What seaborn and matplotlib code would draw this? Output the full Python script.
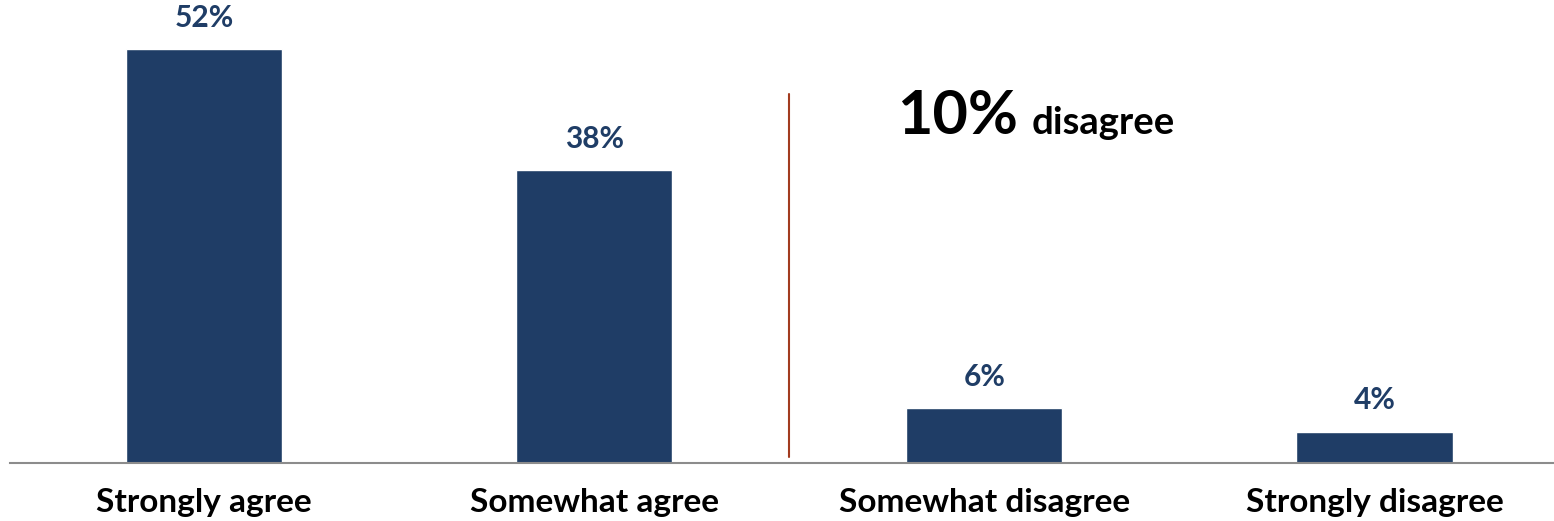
import seaborn as sns
import matplotlib.pyplot as plt
import pandas as pd

categories = ["Strongly agree", "Somewhat agree", "Somewhat disagree", "Strongly disagree"]
heights = [52, 36.8, 6.9, 3.9]
labels = ["52%", "38%", "6%", "4%"]

navy = "#1F3D66"

sns.set_theme(style="white")
plt.rcParams['font.family'] = ['Lato', 'DejaVu Sans']

df = pd.DataFrame({"category": categories, "value": heights})

fig = plt.figure(figsize=(15.54, 5.21), dpi=100)
ax = fig.add_axes([10 / 1554, 58 / 521, 1 - 10 / 1554, 463 / 521])

sns.barplot(data=df, x="category", y="value", color=navy, width=0.4,
            saturation=1, ax=ax)

# value labels above bars
for i, (h, lab) in enumerate(zip(heights, labels)):
    ax.text(i, h + 2.2, lab, ha="center", va="bottom", fontsize=21.5,
            fontweight="bold", color=navy)

# divider between agree / disagree
ax.plot([1.5, 1.5], [0.75, 46.4], color="#A23B1F", lw=1.5)
ax.text(1.777, 41.3, "10%", fontsize=44, fontweight="bold", color="black",
        ha="left", va="baseline")
ax.text(2.12, 41.3, "disagree", fontsize=27.5, fontweight="bold",
        color="black", ha="left", va="baseline")

ax.set_xlim(-0.497, 3.46)
ax.set_ylim(0, 58.2)
ax.set_xlabel("")
ax.set_ylabel("")
ax.set_yticks([])
ax.tick_params(axis="x", length=0, pad=18, labelsize=24, labelcolor="black")
for t in ax.get_xticklabels():
    t.set_fontweight("bold")
for s in ["top", "right", "left"]:
    ax.spines[s].set_visible(False)
ax.spines["bottom"].set_color("#8C8C8C")
ax.spines["bottom"].set_linewidth(1.5)

fig.savefig("out.png", dpi=100)
